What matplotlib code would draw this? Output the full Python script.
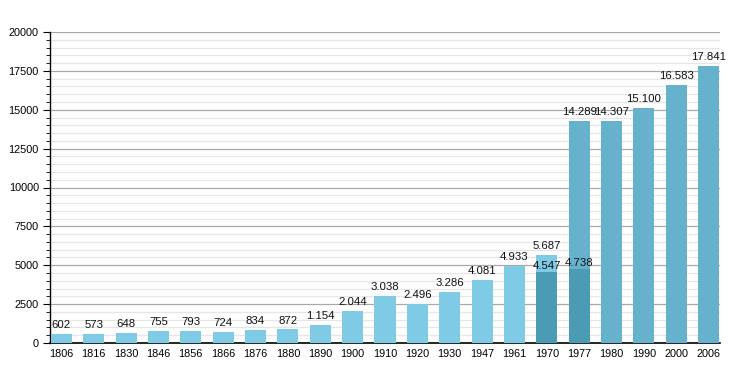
import matplotlib
matplotlib.use("Agg")
import matplotlib.pyplot as plt
from matplotlib.ticker import MultipleLocator

plt.rcParams["font.family"] = ["Liberation Sans", "DejaVu Sans"]

years = ["1806", "1816", "1830", "1846", "1856", "1866", "1876", "1880", "1890", "1900",
         "1910", "1920", "1930", "1947", "1961", "1970", "1977", "1980", "1990", "2000", "2006"]
population = [602, 573, 648, 755, 793, 724, 834, 872, 1154, 2044,
              3038, 2496, 3286, 4081, 4933, 5687, 14289, 14307, 15100, 16583, 17841]
labels = ["602", "573", "648", "755", "793", "724", "834", "872", "1.154", "2.044",
          "3.038", "2.496", "3.286", "4.081", "4.933", "5.687", "14.289", "14.307", "15.100", "16.583", "17.841"]
# overlaid secondary values (1970, 1977)
sub_years = ["1970", "1977"]
sub_values = [4547, 4738]
sub_labels = ["4.547", "4.738"]

light = "#7fcbe6"
mid = "#66b2cd"
dark = "#4a9bb3"

fig = plt.figure(figsize=(7.5, 3.73), dpi=100)
ax = fig.add_axes([50/750, 1-343/373, 670/750, 311/373])

x = list(range(len(years)))
colors = [mid if int(y) >= 1977 else light for y in years]
w = 0.65
ax.bar(x, population, width=w, color=colors, zorder=3)
sub_x = [years.index(s) for s in sub_years]
ax.bar(sub_x, sub_values, width=w, color=dark, zorder=4)

for xi, v, lab in zip(x, population, labels):
    ax.text(xi, v + 250, lab, ha="center", va="bottom", fontsize=8.2, color="#111111", zorder=5)
for xi, v, lab in zip(sub_x, sub_values, sub_labels):
    ax.text(xi, v + 100, lab, ha="center", va="bottom", fontsize=8.2, color="#111111", zorder=5)

ax.set_xlim(-0.35, len(years) - 0.65)
ax.set_ylim(0, 20000)
ax.yaxis.set_major_locator(MultipleLocator(2500))
ax.yaxis.set_minor_locator(MultipleLocator(500))
ax.grid(which="major", axis="y", color="#a8a8a8", linewidth=0.9, zorder=1)
ax.grid(which="minor", axis="y", color="#e6e6e6", linewidth=0.9, zorder=1)
ax.set_xticks(x)
ax.set_xticklabels(years, fontsize=7.8)
ax.tick_params(axis="x", length=0, pad=4)
ax.tick_params(axis="y", which="major", length=5, labelsize=7.8, pad=3)
ax.tick_params(axis="y", which="minor", length=3)
for s in ["top", "right"]:
    ax.spines[s].set_visible(False)
ax.spines["left"].set_linewidth(1.0)
ax.spines["bottom"].set_linewidth(1.2)

fig.savefig("out.png", dpi=100)
